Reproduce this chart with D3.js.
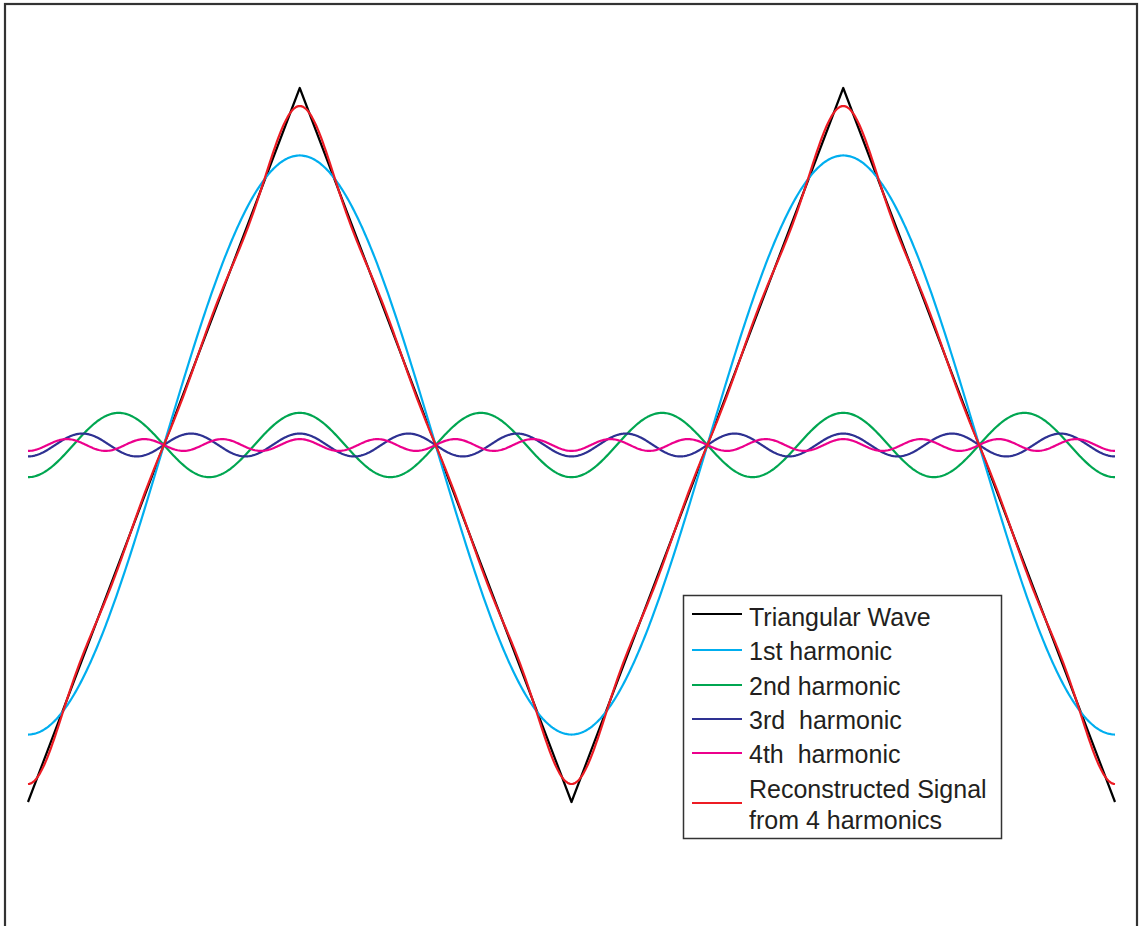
<!DOCTYPE html>
<html>
<head>
<meta charset="utf-8">
<script src="https://cdn.jsdelivr.net/npm/d3@7"></script>
<style>
  html, body { margin: 0; padding: 0; background: #fff; }
  svg { display: block; }
</style>
</head>
<body>
<svg id="chart" width="1139" height="926"></svg>
<script>
// ---- data ----
// x measured in periods of the triangular wave, y normalised to the wave's peak
const xDomain = [0, 2];
const triangleX = [0, 0.5, 1, 1.5, 2];
const triangleY = [-1, 1, -1, 1, -1];

const harmonicNames = ["1st harmonic", "2nd harmonic", "3rd  harmonic", "4th  harmonic"];
const harmonicOrders = [1, 3, 5, 7];
const harmonicAmplitudes = [0.811, 0.090, 0.032, 0.0165];

const legendLabels = ["Triangular Wave", "1st harmonic", "2nd harmonic", "3rd  harmonic", "4th  harmonic", ["Reconstructed Signal", "from 4 harmonics"]];

// ---- styles ----
const colors = ["#000000", "#00AEEF", "#00A651", "#2E3192", "#EC008C", "#ED1C24"];

const svg = d3.select("#chart");

const x = d3.scaleLinear().domain(xDomain).range([28, 1115]);
const y = d3.scaleLinear().domain([-1, 1]).range([802, 88]);

// outer frame
svg.append("rect")
  .attr("x", 5).attr("y", 4).attr("width", 1132).attr("height", 940)
  .attr("fill", "none").attr("stroke", "#333").attr("stroke-width", 2.2);

const samples = d3.range(0, 801).map(i => xDomain[0] + (xDomain[1] - xDomain[0]) * i / 800);

function harmonic(k) {
  return samples.map(t => [t, -harmonicAmplitudes[k] * Math.cos(2 * Math.PI * harmonicOrders[k] * t)]);
}
const harmonicSeries = harmonicOrders.map((_, k) => harmonic(k));
const reconstructed = samples.map((t, i) => [t, d3.sum(harmonicSeries, s => s[i][1])]);
const triangle = triangleX.map((t, i) => [t, triangleY[i]]);

const line = d3.line().x(d => x(d[0])).y(d => y(d[1])).curve(d3.curveLinear);

const allSeries = [triangle, ...harmonicSeries, reconstructed];
const g = svg.append("g");
allSeries.forEach((s, i) => {
  g.append("path")
    .attr("d", line(s))
    .attr("fill", "none")
    .attr("stroke", colors[i])
    .attr("stroke-width", 2.2)
    .attr("stroke-linejoin", "round");
});

// legend
const lg = svg.append("g");
lg.append("rect")
  .attr("x", 683.5).attr("y", 595.5).attr("width", 318).attr("height", 243)
  .attr("fill", "#fff").attr("stroke", "#333").attr("stroke-width", 1.5);

const rowY = [614, 650, 685, 719, 753, 803];
const textBase = [626, 660, 695, 729, 763, 798];
legendLabels.forEach((lab, i) => {
  lg.append("line")
    .attr("x1", 692).attr("x2", 742)
    .attr("y1", rowY[i]).attr("y2", rowY[i])
    .attr("stroke", colors[i]).attr("stroke-width", 2);
  const t = lg.append("text")
    .attr("x", 749).attr("y", textBase[i])
    .attr("font-family", "Liberation Sans, Arial, sans-serif")
    .attr("font-size", 25)
    .attr("fill", "#231F20")
    .style("white-space", "pre");
  if (Array.isArray(lab)) {
    lab.forEach((l, j) => t.append("tspan").attr("x", 749).attr("dy", j === 0 ? 0 : 30.5).text(l));
  } else {
    t.text(lab);
  }
});
</script>
</body>
</html>
